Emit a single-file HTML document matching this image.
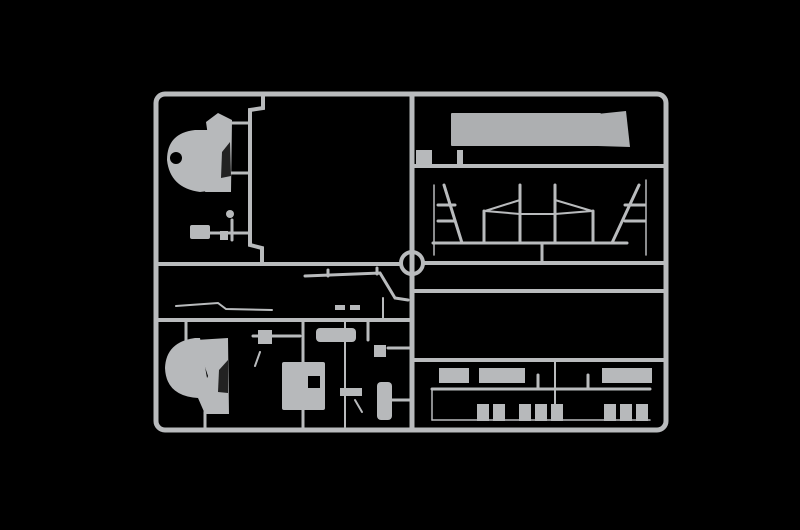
<!DOCTYPE html>
<html><head><meta charset="utf-8"><style>
html,body{margin:0;padding:0;background:#000;}
svg{display:block}
</style></head><body>
<svg width="800" height="530" viewBox="0 0 800 530" xmlns="http://www.w3.org/2000/svg">
<rect width="800" height="530" fill="#000"/>
<g stroke="#b9bbbd" fill="none" stroke-linecap="round">
  <rect x="156" y="94" width="510" height="336" rx="9" stroke-width="5"/>
  <line x1="412" y1="94" x2="412" y2="430" stroke-width="5"/>
  <line x1="156" y1="264" x2="400" y2="264" stroke-width="4"/>
  <line x1="156" y1="320" x2="412" y2="320" stroke-width="4"/>
  <line x1="412" y1="166" x2="666" y2="166" stroke-width="4"/>
  <line x1="424" y1="263" x2="666" y2="263" stroke-width="4"/>
  <line x1="412" y1="291" x2="666" y2="291" stroke-width="4"/>
  <line x1="412" y1="360" x2="666" y2="360" stroke-width="4"/>
  <circle cx="412" cy="263" r="11" stroke-width="4"/>
  <polyline points="263,96 263,108 250,110 250,245 262,248 262,262" stroke-width="4"/>
  <line x1="230" y1="123" x2="250" y2="123" stroke-width="3"/>
  <line x1="230" y1="173" x2="250" y2="173" stroke-width="3"/>
  <line x1="208" y1="233" x2="250" y2="233" stroke-width="3"/>
  <line x1="232" y1="220" x2="232" y2="240" stroke-width="3"/>
  <polyline points="305,276 380,273 395,298 408,300" stroke-width="3"/>
  <line x1="328" y1="270" x2="328" y2="276" stroke-width="3"/>
  <line x1="377" y1="268" x2="377" y2="274" stroke-width="3"/>
  <polyline points="176,306 218,303 226,309 272,310" stroke-width="2"/>
  <line x1="303" y1="320" x2="303" y2="428" stroke-width="3"/>
  <line x1="253" y1="336" x2="300" y2="336" stroke-width="3"/>
  <line x1="345" y1="320" x2="345" y2="427" stroke-width="2"/>
  <line x1="368" y1="320" x2="368" y2="340" stroke-width="3"/>
  <line x1="385" y1="400" x2="412" y2="400" stroke-width="3"/>
  <line x1="388" y1="348" x2="412" y2="348" stroke-width="3"/>
  <line x1="186" y1="320" x2="186" y2="340" stroke-width="3"/>
  <line x1="205" y1="412" x2="205" y2="430" stroke-width="3"/>
  <line x1="260" y1="352" x2="255" y2="366" stroke-width="2"/>
  <line x1="355" y1="400" x2="362" y2="412" stroke-width="2"/>
  <line x1="383" y1="298" x2="383" y2="318" stroke-width="2"/>
  <line x1="433" y1="243" x2="627" y2="243" stroke-width="3"/>
  <line x1="542" y1="243" x2="542" y2="262" stroke-width="3"/>
  <line x1="434" y1="185" x2="434" y2="255" stroke-width="1.5"/>
  <line x1="646" y1="180" x2="646" y2="255" stroke-width="1.5"/>
  <line x1="444" y1="185" x2="462" y2="243" stroke-width="3"/>
  <line x1="639" y1="185" x2="612" y2="243" stroke-width="3"/>
  <line x1="438" y1="205" x2="455" y2="205" stroke-width="3"/>
  <line x1="438" y1="221" x2="455" y2="221" stroke-width="3"/>
  <line x1="625" y1="205" x2="645" y2="205" stroke-width="3"/>
  <line x1="625" y1="221" x2="645" y2="221" stroke-width="3"/>
  <line x1="485" y1="211" x2="520" y2="200" stroke-width="2"/>
  <line x1="485" y1="211" x2="520" y2="214" stroke-width="2"/>
  <line x1="520" y1="214" x2="555" y2="214" stroke-width="2"/>
  <line x1="555" y1="200" x2="592" y2="211" stroke-width="2"/>
  <line x1="555" y1="214" x2="592" y2="211" stroke-width="2"/>
  <line x1="484" y1="211" x2="484" y2="243" stroke-width="3"/>
  <line x1="520" y1="185" x2="520" y2="243" stroke-width="3"/>
  <line x1="555" y1="185" x2="555" y2="243" stroke-width="3"/>
  <line x1="593" y1="211" x2="593" y2="243" stroke-width="3"/>
  <line x1="432" y1="389" x2="650" y2="389" stroke-width="3"/>
  <line x1="432" y1="389" x2="432" y2="420" stroke-width="1.5"/>
  <line x1="432" y1="420" x2="650" y2="420" stroke-width="1.5"/>
  <line x1="555" y1="362" x2="555" y2="405" stroke-width="2"/>
  <line x1="538" y1="375" x2="538" y2="389" stroke-width="3"/>
  <line x1="588" y1="375" x2="588" y2="389" stroke-width="3"/>
</g>
<g fill="#b7b9bb">
  <!-- top-left dome -->
  <path d="M167,160 Q167,133 195,130 L207,130 L212,127 L216,190 L200,192 Q170,188 167,160Z"/>
  <path d="M206,122 L218,113 L232,120 L231,192 L205,192 L213,170 Z"/>
  <circle cx="176" cy="158" r="6" fill="#000"/>
  <path d="M222,152 L230,142 L231,176 L221,178Z" fill="#222"/>
  <rect x="190" y="225" width="20" height="14" rx="2"/>
  <circle cx="230" cy="214" r="4"/>
  <rect x="220" y="231" width="8" height="9"/>
  <!-- bottom-left dome -->
  <path d="M165,368 Q166,342 195,338 L200,338 L210,395 L198,398 Q166,396 165,368Z"/>
  <path d="M196,340 L228,338 L229,414 L205,414 L198,398 L208,376Z"/>
  <path d="M219,370 L228,360 L228,393 L218,392Z" fill="#222"/>
  <rect x="282" y="362" width="43" height="48" rx="2"/>
  <rect x="308" y="376" width="12" height="12" fill="#000"/>
  <rect x="316" y="328" width="40" height="14" rx="4"/>
  <rect x="377" y="382" width="15" height="38" rx="4"/>
  <rect x="374" y="345" width="12" height="12"/>
  <rect x="258" y="330" width="14" height="14"/>
  <rect x="340" y="388" width="22" height="8"/>
  <rect x="335" y="305" width="10" height="5"/>
  <rect x="350" y="305" width="10" height="5"/>
  <!-- top right long part -->
  <rect x="451" y="113" width="150" height="33" rx="1" fill="#adafb1"/>
  <path d="M597,114 L626,111 L630,147 L598,146Z" fill="#adafb1"/>
  <rect x="416" y="150" width="16" height="15"/>
  <rect x="457" y="150" width="6" height="14"/>
  <rect x="439" y="368" width="30" height="15"/>
  <rect x="479" y="368" width="46" height="15"/>
  <rect x="602" y="368" width="50" height="15"/>
  <rect x="477" y="404" width="12" height="17"/>
  <rect x="493" y="404" width="12" height="17"/>
  <rect x="519" y="404" width="12" height="17"/>
  <rect x="535" y="404" width="12" height="17"/>
  <rect x="551" y="404" width="12" height="17"/>
  <rect x="604" y="404" width="12" height="17"/>
  <rect x="620" y="404" width="12" height="17"/>
  <rect x="636" y="404" width="12" height="17"/>
</g>
</svg>
</body></html>
